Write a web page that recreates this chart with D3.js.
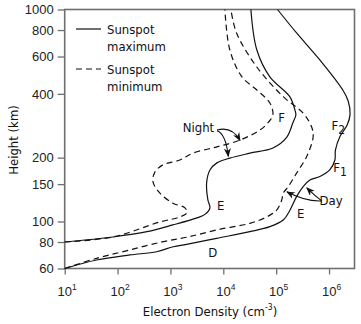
<!DOCTYPE html>
<html lang="en">
<head>
<meta charset="utf-8">
<style>
  body { margin: 0; background: #fff; }
  svg { font-family: 'Liberation Sans Narrow', 'DejaVu Sans Condensed', 'Arial Narrow', sans-serif; }
  .frame { fill: none; stroke: #6f6f6f; stroke-width: 1.6px; }
  .tick line { stroke: #6f6f6f; stroke-width: 1.3px; }
  .tick text { fill: #222; font-size: 13px; }
  .curve { fill: none; stroke: #111; stroke-width: 1.2px; }
  .curve.min { stroke-dasharray: 6,4; }
  .lbl { fill: #111; font-size: 13px; }
  .arrow { fill: none; stroke: #111; stroke-width: 1.1px; }
</style>
</head>
<body>
<svg width="361" height="324"></svg>
<script src="https://cdn.jsdelivr.net/npm/d3@7"></script>
<script>
// profiles: [electron density (cm^-3), height (km)]
const dayMax = [[10,60],[40,65.8],[171,69.5],[548,72],[1130,76],[2020,78],[7460,83.3],[31800,89.5],[76000,94.5],
  [136000,101.6],[182000,113],[243000,131],[324000,146],[433000,157],[670000,163],[1.03e6,175],[1.29e6,195],
  [1.32e6,217],[1.6e6,251],[2.2e6,285],[2.5e6,320],[2.3e6,370],[1.82e6,417],[670000,578],[243000,775],[106000,1000]];
const dayMin = [[10,60],[40,67],[171,73.4],[731,80.3],[2140,84.5],[7460,91.2],[31800,98],[65900,105],[102000,113],
  [127000,126],[136000,136],[169000,146],[243000,169],[376000,202],[500000,251],[467000,280],[324000,324],
  [136000,388],[42700,537],[17800,775],[13900,1000]];
const nightMax = [[10,80],[82,84.5],[360,89.5],[1110,96.3],[3170,104],[4490,108],[5590,116],[5120,126],[4830,152],
  [5590,175],[7570,189],[13300,199],[31800,210],[86700,222],[159000,250],[207000,292],[236000,318],[226000,336],
  [182000,387],[76000,481],[43100,644],[33200,1000]];
const nightMin = [[10,80],[82,84.5],[632,99.5],[1510,105],[2050,110],[1880,116],[1110,122],[632,136],[467,154],
  [509,171],[721,185],[1510,195],[2660,210],[7570,225],[20600,242],[49200,270],[69700,292],[86700,318],
  [76000,362],[43100,417],[22500,481],[13300,644],[10700,1000]];

const xTicks = [1, 2, 3, 4, 5, 6];          // powers of ten
const yTicks = [60, 80, 100, 150, 200, 400, 600, 800, 1000];

// region labels [text, subscript, density, height]
const regionLabels = [["F","",110000,295],["F","2",1.11e6,270],["F","1",1.2e6,171],
  ["E","",7600,113],["E","",248000,103.5],["D","",5210,68.2]];
// arrows: [start, control, end] in data units
const arrows = [
  [[7600,270],[14600,282],[20700,241]],
  [[7600,268],[11200,259],[12400,203]],
  [[728000,125],[352000,124],[160000,138]],
  [[728000,125],[543000,132],[379000,144]]
];

const svg = d3.select("svg");
const x = d3.scaleLog().domain([10, 3.03e6]).range([64.7, 354.5]);
const y = d3.scaleLog().domain([60, 1000]).range([268.5, 9.5]);

svg.append("defs").append("marker")
    .attr("id", "head")
    .attr("viewBox", "0 0 10 8")
    .attr("refX", 9).attr("refY", 4)
    .attr("markerWidth", 9).attr("markerHeight", 7)
    .attr("markerUnits", "userSpaceOnUse")
    .attr("orient", "auto")
  .append("path")
    .attr("d", "M0,0 L10,4 L0,8 L3,4 Z")
    .attr("fill", "#111");

// axes
svg.append("g")
    .attr("transform", `translate(${x.range()[0]},0)`)
    .call(d3.axisLeft(y).tickValues(yTicks).tickFormat(d3.format("d")).tickSize(7).tickPadding(4));
const xAxis = svg.append("g")
    .attr("transform", `translate(0,${y.range()[0]})`)
    .call(d3.axisBottom(x).tickValues(xTicks.map(p => Math.pow(10, p))).tickFormat("").tickSize(6));
svg.selectAll(".domain").remove();

xAxis.selectAll(".tick").data(xTicks).append("text")
    .attr("y", 27)
    .attr("text-anchor", "middle")
    .attr("dx", 2)
    .text("10")
  .append("tspan")
    .attr("dy", -6)
    .style("font-size", "8.5px")
    .text(d => d);

svg.append("rect").attr("class", "frame")
    .attr("x", x.range()[0]).attr("y", y.range()[1])
    .attr("width", x.range()[1] - x.range()[0])
    .attr("height", y.range()[0] - y.range()[1]);

// axis titles
svg.append("text").attr("class", "lbl")
    .attr("transform", "translate(18,140) rotate(-90)")
    .attr("text-anchor", "middle")
    .text("Height (km)");
const xt = svg.append("text").attr("class", "lbl")
    .attr("x", 210).attr("y", 316)
    .attr("text-anchor", "middle")
    .text("Electron Density (cm");
xt.append("tspan").attr("dy", -6).style("font-size", "8.5px").text("-3");
xt.append("tspan").attr("dy", 6).text(")");

// curves
const line = d3.line().x(d => x(d[0])).y(d => y(d[1])).curve(d3.curveCatmullRom.alpha(0.5));
[[dayMax, "max"], [dayMin, "min"], [nightMax, "max"], [nightMin, "min"]].forEach(([data, cls]) => {
  svg.append("path").attr("class", "curve " + cls).attr("d", line(data));
});

// region labels
regionLabels.forEach(([t, sub, n, h]) => {
  const el = svg.append("text").attr("class", "lbl")
      .attr("x", x(n)).attr("y", y(h)).text(t);
  if (sub) el.append("tspan").attr("dy", 4).style("font-size", "12px").text(sub);
});

// annotations
svg.append("text").attr("class", "lbl").attr("x", 198.5).attr("y", 132)
    .attr("text-anchor", "middle").text("Night");
svg.append("text").attr("class", "lbl").attr("x", 331).attr("y", 205)
    .attr("text-anchor", "middle").text("Day");
arrows.forEach(([s, c, e]) => {
  const p = d3.path();
  p.moveTo(x(s[0]), y(s[1]));
  p.quadraticCurveTo(x(c[0]), y(c[1]), x(e[0]), y(e[1]));
  svg.append("path").attr("class", "arrow").attr("d", p.toString()).attr("marker-end", "url(#head)");
});

// legend
const legend = svg.append("g").attr("transform", "translate(76,0)");
[["Sunspot", "maximum", null, 29], ["Sunspot", "minimum", "6,4", 69]].forEach(([a, b, dash, ly]) => {
  legend.append("line").attr("x1", 0).attr("x2", 25).attr("y1", ly).attr("y2", ly)
      .attr("stroke", "#111").attr("stroke-width", 1.2).attr("stroke-dasharray", dash);
  legend.append("text").attr("class", "lbl").attr("x", 31).attr("y", ly + 5).text(a);
  legend.append("text").attr("class", "lbl").attr("x", 31).attr("y", ly + 22).text(b);
});
</script>
</body>
</html>
